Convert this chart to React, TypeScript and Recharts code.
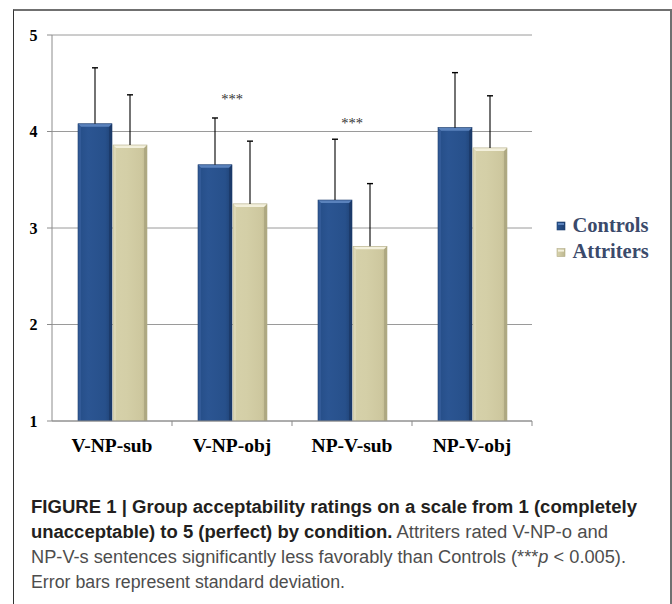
import React from 'react';
import { BarChart, Bar, XAxis, YAxis, CartesianGrid, Legend, ReferenceDot } from 'recharts';

// ---- data ----
const conditions = ['V-NP-sub', 'V-NP-obj', 'NP-V-sub', 'NP-V-obj'];
const seriesNames = ['Controls', 'Attriters'];
const controlsMean = [4.08, 3.655, 3.29, 4.04];
const controlsSD = [0.58, 0.485, 0.63, 0.57];
const attritersMean = [3.86, 3.25, 2.81, 3.83];
const attritersSD = [0.52, 0.65, 0.65, 0.54];
const yTicks = [1, 2, 3, 4, 5];
const sigConditions = ['V-NP-obj', 'NP-V-sub'];
const sigLabelY = [4.34, 4.09];
const Y_MIN = 1;
const Y_MAX = 5;

const data = conditions.map((c, i) => ({
  condition: c,
  Controls: controlsMean[i],
  ControlsSD: controlsSD[i],
  Attriters: attritersMean[i],
  AttritersSD: attritersSD[i],
}));

const CHART_W = 672;
const MARGIN = { top: 35, right: 140, bottom: 0, left: 0 };
const YAXIS_W = 52;
const PLOT_W = CHART_W - MARGIN.right - MARGIN.left - YAXIS_W;

const palettes: Record<string, any> = {
  Controls: { grad: 'gradControls', top: '#5a82bc', left: '#3a63a0', right: '#1b3866', stroke: '#1d3c6c' },
  Attriters: { grad: 'gradAttriters', top: '#f3f0dc', left: '#e2dec0', right: '#aaa47e', stroke: '#b3ad88' },
};

const BevelBar = (props: any) => {
  const { x, y, width, height, payload, seriesKey } = props;
  if (width == null || height == null || height <= 0) return null;
  const pal = palettes[seriesKey];
  const b = 3;
  const mean = payload[seriesKey];
  const sd = payload[seriesKey + 'SD'];
  const pxPerUnit = height / (mean - Y_MIN);
  const errTop = y - sd * pxPerUnit;
  const cx = x + width / 2;
  return (
    <g>
      <rect x={x} y={y} width={width} height={height} fill={`url(#${pal.grad})`} />
      <polygon points={`${x},${y} ${x + b},${y + b} ${x + b},${y + height} ${x},${y + height}`} fill={pal.left} opacity={0.6} />
      <polygon points={`${x + width},${y} ${x + width - b},${y + b} ${x + width - b},${y + height} ${x + width},${y + height}`} fill={pal.right} opacity={0.8} />
      <polygon points={`${x},${y} ${x + width},${y} ${x + width - b},${y + b} ${x + b},${y + b}`} fill={pal.top} />
      <rect x={x} y={y} width={width} height={height} fill="none" stroke={pal.stroke} strokeWidth={0.6} />
      <line x1={cx} x2={cx} y1={y} y2={errTop} stroke="#000" strokeWidth={1.1} />
      <line x1={cx - 3} x2={cx + 3} y1={errTop} y2={errTop} stroke="#000" strokeWidth={1.4} />
    </g>
  );
};

const XTick = (props: any) => {
  const { x, y, payload } = props;
  const half = PLOT_W / conditions.length / 2;
  return (
    <g>
      <line x1={x + half} x2={x + half} y1={y} y2={y + 5} stroke="#8c8c8c" strokeWidth={1} />
      <text x={x} y={y + 30.7} textAnchor="middle" fontFamily="'Liberation Serif', serif" fontWeight="bold" fontSize={19.5} fill="#000">
        {payload.value}
      </text>
    </g>
  );
};

const LegendContent = (props: any) => {
  const raw = props.payload || [];
  const payload = seriesNames
    .map((n) => raw.find((p: any) => (p.dataKey || p.value) === n))
    .filter(Boolean);
  return (
    <svg width={115} height={60} style={{ display: 'block' }}>
      <defs>
        <linearGradient id="gradControlsL" x1="0" y1="0" x2="1" y2="0">
          <stop offset="0" stopColor="#2a5590" />
          <stop offset="1" stopColor="#1e3f72" />
        </linearGradient>
        <linearGradient id="gradAttritersL" x1="0" y1="0" x2="1" y2="0">
          <stop offset="0" stopColor="#d8d3ad" />
          <stop offset="1" stopColor="#bdb790" />
        </linearGradient>
      </defs>
      {payload.map((p: any, i: number) => {
        const key = p.dataKey || p.value;
        const pal = palettes[key] || palettes.Controls;
        const ry = 12 + 26.6 * i;
        return (
          <g key={key}>
            <rect x={2} y={ry} width={8} height={8} fill={`url(#${pal.grad}L)`} stroke={pal.stroke} strokeWidth={0.6} />
            <rect x={3} y={ry + 1} width={6} height={2} fill={pal.top} />
            <text x={17.5} y={21.7 + 26.6 * i} fontFamily="'Liberation Serif', serif" fontWeight="bold" fontSize={20.5} fill="#3b4a6b">
              {p.value}
            </text>
          </g>
        );
      })}
    </svg>
  );
};

const captionBold = '#231f20';
const captionReg = '#4d4d4d';
const capFont = "'Liberation Sans', Arial, sans-serif";

export default function App() {
  return (
    <div style={{ position: 'absolute', left: 0, top: 0, width: 672, height: 604, overflow: 'hidden', background: '#fff' }}>
      <div style={{ position: 'absolute', left: 12.5, top: 8.5, width: 656, height: 700, borderLeft: '1.5px solid #333', borderTop: '2px solid #707070', borderRight: '2px solid #707070' }} />
      <div style={{ position: 'absolute', left: 0, top: 0 }}>
        <BarChart
          width={CHART_W}
          height={470}
          data={data}
          margin={MARGIN}
          barSize={34}
          barGap={1}
        >
          <defs>
            <linearGradient id="gradControls" x1="0" y1="0" x2="1" y2="0">
              <stop offset="0" stopColor="#254d87" />
              <stop offset="0.3" stopColor="#2b5592" />
              <stop offset="0.8" stopColor="#27508b" />
              <stop offset="1" stopColor="#1f4275" />
            </linearGradient>
            <linearGradient id="gradAttriters" x1="0" y1="0" x2="1" y2="0">
              <stop offset="0" stopColor="#d6d1aa" />
              <stop offset="0.4" stopColor="#d4cfa7" />
              <stop offset="0.85" stopColor="#cdc79e" />
              <stop offset="1" stopColor="#b9b38b" />
            </linearGradient>
          </defs>
          <CartesianGrid horizontal={true} vertical={false} stroke="#9a9a9a" strokeWidth={1} />
          <XAxis
            dataKey="condition"
            height={49}
            tickLine={false}
            tickSize={0}
            tickMargin={0}
            axisLine={{ stroke: '#8c8c8c' }}
            tick={<XTick />}
            interval={0}
          />
          <YAxis
            domain={[Y_MIN, Y_MAX]}
            ticks={yTicks}
            width={YAXIS_W}
            tickSize={5}
            tickMargin={9.5}
            axisLine={{ stroke: '#8c8c8c' }}
            tickLine={{ stroke: '#8c8c8c' }}
            tick={{ fontFamily: "'Liberation Serif', serif", fontWeight: 'bold', fontSize: 16, fill: '#000' }}
            allowDataOverflow={true}
          />
          <Bar dataKey="Controls" fill="#2a5590" isAnimationActive={false} shape={(p: any) => <BevelBar {...p} seriesKey="Controls" />} />
          <Bar dataKey="Attriters" fill="#d4cfa7" isAnimationActive={false} shape={(p: any) => <BevelBar {...p} seriesKey="Attriters" />} />
          {sigConditions.map((c, i) => (
            <ReferenceDot
              key={c}
              x={c}
              y={sigLabelY[i]}
              r={0}
              fill="none"
              stroke="none"
              label={{ value: '***', position: 'center', fontFamily: "'Liberation Serif', serif", fontSize: 14.5, fill: '#333' }}
            />
          ))}
          <Legend
            layout="horizontal"
            verticalAlign="middle"
            align="center"
            content={<LegendContent />}
            wrapperStyle={{ left: 555, top: 210, width: 115, height: 60 }}
          />
        </BarChart>
      </div>
      <svg width={672} height={134} style={{ position: 'absolute', left: 0, top: 470 }}>
        <text x={31} y={42.5} textLength={606} lengthAdjust="spacingAndGlyphs" fontFamily={capFont} fontSize={18} fontWeight="bold" fill={captionBold}>
          FIGURE 1 | Group acceptability ratings on a scale from 1 (completely
        </text>
        <text x={31} y={67.5} textLength={577} lengthAdjust="spacingAndGlyphs" fontFamily={capFont} fontSize={18}>
          <tspan fontWeight="bold" fill={captionBold}>unacceptable) to 5 (perfect) by condition.</tspan>
          <tspan fill={captionReg}> Attriters rated V-NP-o and</tspan>
        </text>
        <text x={31} y={92.5} textLength={595} lengthAdjust="spacingAndGlyphs" fontFamily={capFont} fontSize={17.5} fill={captionReg}>
          NP-V-s sentences significantly less favorably than Controls (***<tspan fontStyle="italic">p</tspan> {'<'} 0.005).
        </text>
        <text x={31} y={117.5} textLength={314} lengthAdjust="spacingAndGlyphs" fontFamily={capFont} fontSize={17.5} fill={captionReg}>
          Error bars represent standard deviation.
        </text>
      </svg>
    </div>
  );
}
